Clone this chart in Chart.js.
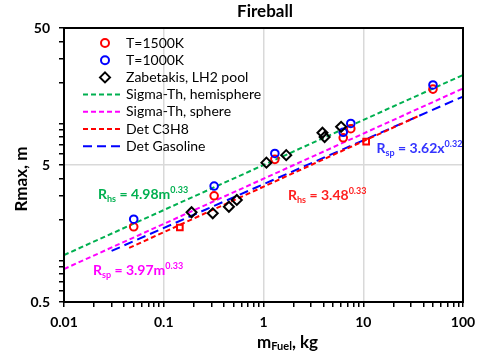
<!DOCTYPE html>
<html>
<head>
<meta charset="utf-8">
<script src="https://cdn.jsdelivr.net/npm/chart.js@4"></script>
<style>
  body { margin: 0; background: #fff; }
</style>
</head>
<body>
<canvas id="fireballChart" width="478" height="356"></canvas>
<script>
// values (fuel mass in kg, Rmax in m)
const hotMass = [0.05, 0.32, 1.3, 6.3, 7.5, 50];
const hotR = [1.77, 2.98, 5.5, 7.9, 9.2, 17.9];
const coolMass = [0.05, 0.32, 1.3, 6.3, 7.5, 50];
const coolR = [2.01, 3.51, 6.07, 8.67, 10.05, 19.2];
const zabMass = [0.19, 0.31, 0.45, 0.54, 1.07, 1.69, 3.9, 4.1, 6.0];
const zabR = [2.26, 2.22, 2.48, 2.78, 5.2, 5.9, 8.6, 8.0, 9.5];
const detMass = [0.145, 10.7];
const detR = [1.75, 7.4];

// fit lines, end points only (straight on log-log)
const hemiMass = [0.01, 100];
const hemiR = [1.1, 22.7];
const sphereMass = [0.01, 100];
const sphereR = [0.87, 18.1];
const c3h8Mass = [0.045, 35];
const c3h8R = [1.24, 11.3];
const gasMass = [0.03, 100];
const gasR = [1.18, 15.8];

const xLabelTicks = [0.01, 0.1, 1, 10, 100];
const yLabelTicks = [0.5, 5, 50];

const FONT = "Lato, 'Open Sans', sans-serif";

// 1..9 ticks in every decade between the labelled ones
function logTicks(labels, decades) {
  const lo = labels[0], hi = labels[labels.length - 1];
  const out = [];
  decades.forEach(d => {
    for (let k = 1; k <= 9; k++) {
      const v = d * k;
      if (v >= lo - 1e-12 && v <= hi + 1e-12) out.push(v);
    }
  });
  return out;
}

const toPoints = (xs, ys) => xs.map((x, i) => ({ x: x, y: ys[i] }));

const pointSet = (label, xs, ys, color, style, radius, order) => ({
  type: 'scatter',
  label: label,
  data: toPoints(xs, ys),
  borderColor: color,
  backgroundColor: 'rgba(0,0,0,0)',
  pointStyle: style,
  pointRadius: radius,
  pointBorderWidth: 2,
  pointBackgroundColor: 'rgba(0,0,0,0)',
  order: order
});

const lineSet = (label, xs, ys, color, dash) => ({
  type: 'line',
  label: label,
  data: toPoints(xs, ys),
  borderColor: color,
  borderWidth: 2,
  borderDash: dash,
  pointRadius: 0,
  fill: false,
  order: 5
});

const datasets = [
  pointSet('T=1500K', hotMass, hotR, '#FF0000', 'circle', 3.8, 2),
  pointSet('T=1000K', coolMass, coolR, '#0000FF', 'circle', 3.8, 1),
  pointSet('Zabetakis, LH2 pool', zabMass, zabR, '#000000', 'rectRot', 5, 0),
  lineSet('Sigma-Th, hemisphere', hemiMass, hemiR, '#00B050', [5, 3]),
  lineSet('Sigma-Th, sphere', sphereMass, sphereR, '#FF00FF', [5, 3]),
  lineSet('Det C3H8', c3h8Mass, c3h8R, '#FF0000', [5, 3]),
  lineSet('Det Gasoline', gasMass, gasR, '#0000FF', [9, 5]),
  Object.assign(pointSet('Det points', detMass, detR, '#FF0000', 'rect', 4, 3), { noLegend: true })
];

// fit labels: [text, kind] kind 0 normal, 1 subscript, 2 superscript
const fitNotes = [
  { color: '#00B050', at: [0.0219, 2.83], parts: [['R', 0], ['hs', 1], [' = 4.98m', 0], ['0.33', 2]] },
  { color: '#FF00FF', at: [0.0195, 0.787], parts: [['R', 0], ['sp', 1], [' = 3.97m', 0], ['0.33', 2]] },
  { color: '#FF2020', at: [1.76, 2.78], parts: [['R', 0], ['hs', 1], [' = 3.48', 0], ['0.33', 2]] },
  { color: '#3333FF', at: [13.6, 6.12], parts: [['R', 0], ['sp', 1], [' = 3.62x', 0], ['0.32', 2]] }
];

function drawParts(ctx, parts, x, y, big, small) {
  parts.forEach(([t, kind]) => {
    ctx.font = kind === 0 ? 'bold ' + big + 'px ' + FONT : 'bold ' + small + 'px ' + FONT;
    const dy = kind === 1 ? 3 : (kind === 2 ? -6 : 0);
    ctx.fillText(t, x, y + dy);
    x += ctx.measureText(t).width;
  });
}

const extras = {
  id: 'extras',
  afterDatasetsDraw(chart) {
    const { ctx, chartArea: a, scales } = chart;
    ctx.save();
    ctx.textBaseline = 'alphabetic';
    ctx.textAlign = 'left';
    fitNotes.forEach(n => {
      ctx.fillStyle = n.color;
      drawParts(ctx, n.parts, scales.x.getPixelForValue(n.at[0]), scales.y.getPixelForValue(n.at[1]), 14, 9);
    });

    // legend inside the plot
    let row = 0;
    chart.data.datasets.forEach(ds => {
      if (ds.noLegend) return;
      const cy = 43 + row * 17.2;
      ctx.strokeStyle = ds.borderColor;
      ctx.lineWidth = 2;
      if (ds.type === 'line') {
        ctx.setLineDash(ds.borderDash);
        ctx.beginPath();
        ctx.moveTo(83, cy);
        ctx.lineTo(122, cy);
        ctx.stroke();
        ctx.setLineDash([]);
      } else if (ds.pointStyle === 'circle') {
        ctx.beginPath();
        ctx.arc(105, cy, 4, 0, Math.PI * 2);
        ctx.stroke();
      } else {
        ctx.beginPath();
        ctx.moveTo(105, cy - 5);
        ctx.lineTo(110, cy);
        ctx.lineTo(105, cy + 5);
        ctx.lineTo(100, cy);
        ctx.closePath();
        ctx.stroke();
      }
      ctx.fillStyle = '#000';
      ctx.font = '14px ' + FONT;
      ctx.textBaseline = 'middle';
      ctx.fillText(ds.label, 126, cy);
      ctx.textBaseline = 'alphabetic';
      row++;
    });

    // plot frame
    ctx.strokeStyle = '#000';
    ctx.lineWidth = 2;
    ctx.strokeRect(a.left, a.top, a.right - a.left, a.bottom - a.top);

    // titles
    ctx.fillStyle = '#000';
    ctx.font = 'bold 17px ' + FONT;
    ctx.textAlign = 'center';
    ctx.textBaseline = 'middle';
    ctx.fillText('Fireball', 265, 12);

    ctx.save();
    ctx.translate(22, 179);
    ctx.rotate(-Math.PI / 2);
    ctx.fillText('Rmax, m', 0, 0);
    ctx.restore();

    ctx.textAlign = 'left';
    ctx.textBaseline = 'alphabetic';
    let x = 257;
    ctx.font = 'bold 17px ' + FONT;
    ctx.fillText('m', x, 348);
    x += ctx.measureText('m').width;
    ctx.font = 'bold 11px ' + FONT;
    ctx.fillText('Fuel', x, 350);
    x += ctx.measureText('Fuel').width;
    ctx.font = 'bold 17px ' + FONT;
    ctx.fillText(', kg', x, 348);
    ctx.restore();
  }
};

const tickFont = { family: FONT, size: 14, weight: 'bold' };

new Chart(document.getElementById('fireballChart'), {
  data: { datasets: datasets },
  options: {
    responsive: false,
    animation: false,
    layout: { padding: { left: 0, top: 28, right: 15, bottom: 0 } },
    plugins: { legend: { display: false }, tooltip: { enabled: false } },
    scales: {
      x: {
        type: 'logarithmic',
        min: 0.01,
        max: 100,
        afterBuildTicks: (scale) => {
          scale.ticks = logTicks(xLabelTicks, [0.01, 0.1, 1, 10, 100]).map(v => ({ value: v }));
        },
        afterFit: (scale) => {
          scale.height = 54;
          scale.paddingLeft = 0;
          scale.paddingRight = 0;
        },
        ticks: {
          autoSkip: false,
          maxRotation: 0,
          padding: 7,
          color: '#000',
          font: tickFont,
          callback: (v) => xLabelTicks.includes(v) ? String(v) : ''
        },
        grid: {
          color: (c) => xLabelTicks.includes(c.tick && c.tick.value) ? '#D9D9D9' : 'rgba(0,0,0,0)',
          lineWidth: 1.5,
          tickColor: '#000',
          tickWidth: 1.5,
          tickLength: 5
        },
        border: { color: '#000', width: 2 }
      },
      y: {
        type: 'logarithmic',
        min: 0.5,
        max: 50,
        afterBuildTicks: (scale) => {
          scale.ticks = logTicks(yLabelTicks, [0.1, 1, 10]).map(v => ({ value: v }));
        },
        afterFit: (scale) => {
          scale.width = 64;
          scale.paddingTop = 0;
          scale.paddingBottom = 0;
        },
        ticks: {
          autoSkip: false,
          padding: 9,
          color: '#000',
          font: tickFont,
          callback: (v) => yLabelTicks.includes(v) ? String(v) : ''
        },
        grid: {
          color: (c) => yLabelTicks.includes(c.tick && c.tick.value) ? '#D9D9D9' : 'rgba(0,0,0,0)',
          lineWidth: 1.5,
          tickColor: '#000',
          tickWidth: 1.5,
          tickLength: 5
        },
        border: { color: '#000', width: 2 }
      }
    }
  },
  plugins: [extras]
});
</script>
</body>
</html>
